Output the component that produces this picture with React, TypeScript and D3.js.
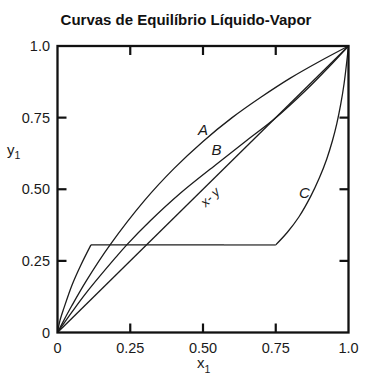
import React from "react";
import * as d3 from "d3";

// ---- data ----
const xTicks = [0, 0.25, 0.5, 0.75, 1.0];
const xTickLabels = ["0", "0.25", "0.50", "0.75", "1.0"];
const yTicks = [0, 0.25, 0.5, 0.75, 1.0];
const yTickLabels = ["0", "0.25", "0.50", "0.75", "1.0"];

const curveAx = [0, 0.02, 0.05, 0.1, 0.18, 0.3, 0.4, 0.5, 0.6, 0.7, 0.8, 0.9, 1];
const curveAy = [0, 0.039, 0.095, 0.182, 0.305, 0.462, 0.572, 0.667, 0.75, 0.822, 0.888, 0.946, 1];

const curveBx = [0, 0.05, 0.1, 0.2, 0.238, 0.319, 0.422, 0.543, 0.65, 0.745, 0.85, 0.93, 1];
const curveBy = [0, 0.072, 0.14, 0.262, 0.306, 0.39, 0.486, 0.585, 0.67, 0.745, 0.842, 0.924, 1];

const diagX = [0, 1];
const diagY = [0, 1];

const curveCLowX = [0, 0.008, 0.022, 0.05, 0.08, 0.115];
const curveCLowY = [0, 0.04, 0.085, 0.166, 0.235, 0.306];
const curveCFlatX = [0.115, 0.75];
const curveCFlatY = [0.306, 0.306];
const curveCFlatGrayX = [0.572, 0.75];
const curveCHighX = [0.75, 0.79, 0.83, 0.87, 0.9, 0.925, 0.945, 0.96, 0.973, 0.985, 1];
const curveCHighY = [0.306, 0.35, 0.404, 0.475, 0.54, 0.605, 0.67, 0.73, 0.795, 0.87, 1];

const labels = [
  { text: "A", x: 0.483, y: 0.689 },
  { text: "B", x: 0.529, y: 0.62 },
  { text: "C", x: 0.83, y: 0.468 },
];
const diagLabel = { text: "x- y", x: 0.527, y: 0.47 };

const title = "Curvas de Equilíbrio Líquido-Vapor";

// ---- layout ----
const W = 372;
const H = 376;
const left = 57.5;
const right = 348.5;
const top = 46;
const bottom = 332.5;

export default function App() {
  const x = d3.scaleLinear().domain([0, 1]).range([left, right]);
  const y = d3.scaleLinear().domain([0, 1]).range([bottom, top]);

  const zip = (xs: number[], ys: number[]) => xs.map((v, i) => [v, ys[i]] as [number, number]);
  const smooth = d3
    .line<[number, number]>()
    .x((d) => x(d[0]))
    .y((d) => y(d[1]))
    .curve(d3.curveCatmullRom.alpha(0.5));
  const straight = d3
    .line<[number, number]>()
    .x((d) => x(d[0]))
    .y((d) => y(d[1]));

  const font = "'Liberation Sans', Arial, Helvetica, sans-serif";
  const tickLen = 9;
  const lineColor = "#1c1c1c";

  return (
    <svg
      width={W}
      height={H}
      style={{ position: "absolute", left: 0, top: 0, background: "#fff" }}
      fontFamily={font}
    >
      <rect x={0} y={0} width={W} height={H} fill="#fff" />
      <text x={186} y={25} textAnchor="middle" fontSize={15} fontWeight="bold" fill="#111">
        {title}
      </text>

      {/* curves */}
      <g fill="none" stroke={lineColor} strokeWidth={1.3} strokeLinejoin="miter">
        <path d={smooth(zip(curveAx, curveAy)) || ""} />
        <path d={smooth(zip(curveBx, curveBy)) || ""} />
        <path d={straight(zip(diagX, diagY)) || ""} />
        <path d={smooth(zip(curveCLowX, curveCLowY)) || ""} />
        <path d={straight(zip(curveCFlatX, curveCFlatY)) || ""} />
        <path d={smooth(zip(curveCHighX, curveCHighY)) || ""} />
      </g>
      <path
        d={straight(zip(curveCFlatGrayX, curveCFlatY)) || ""}
        fill="none"
        stroke="#7a7a7a"
        strokeWidth={1.4}
      />

      {/* curve labels */}
      {labels.map((l) => (
        <text
          key={l.text}
          x={x(l.x)}
          y={y(l.y)}
          fontSize={15}
          fontStyle="italic"
          fill="#1a1a1a"
        >
          {l.text}
        </text>
      ))}
      <text
        x={x(diagLabel.x)}
        y={y(diagLabel.y)}
        fontSize={13}
        fontStyle="italic"
        fill="#1a1a1a"
        textAnchor="middle"
        dominantBaseline="middle"
        transform={`rotate(-44, ${x(diagLabel.x)}, ${y(diagLabel.y)})`}
      >
        {diagLabel.text}
      </text>

      {/* frame */}
      <rect
        x={left}
        y={top}
        width={right - left}
        height={bottom - top}
        fill="none"
        stroke="#111"
        strokeWidth={2.3}
      />

      {/* ticks (inward, all four sides) */}
      <g stroke="#111" strokeWidth={2.2}>
        {xTicks
          .filter((t) => t > 0 && t < 1)
          .map((t) => (
            <g key={"xt" + t}>
              <line x1={x(t)} x2={x(t)} y1={bottom} y2={bottom - tickLen} />
              <line x1={x(t)} x2={x(t)} y1={top} y2={top + tickLen} />
            </g>
          ))}
        {yTicks
          .filter((t) => t > 0 && t < 1)
          .map((t) => (
            <g key={"yt" + t}>
              <line x1={left} x2={left + tickLen} y1={y(t)} y2={y(t)} />
              <line x1={right} x2={right - tickLen} y1={y(t)} y2={y(t)} />
            </g>
          ))}
      </g>

      {/* tick labels */}
      <g fontSize={14.5} fill="#1a1a1a">
        {xTicks.map((t, i) => (
          <text key={"xl" + t} x={x(t)} y={bottom + 20.5} textAnchor="middle">
            {xTickLabels[i]}
          </text>
        ))}
        {yTicks.map((t, i) => (
          <text key={"yl" + t} x={left - 7.5} y={y(t) + 5} textAnchor="end">
            {yTickLabels[i]}
          </text>
        ))}
      </g>

      {/* axis titles */}
      <text x={197} y={367.5} fontSize={15} fill="#1a1a1a">
        x
        <tspan fontSize={10.5} dy={5}>
          1
        </tspan>
      </text>
      <text x={7} y={154.5} fontSize={15} fill="#1a1a1a">
        y
        <tspan fontSize={10.5} dy={4}>
          1
        </tspan>
      </text>
    </svg>
  );
}
